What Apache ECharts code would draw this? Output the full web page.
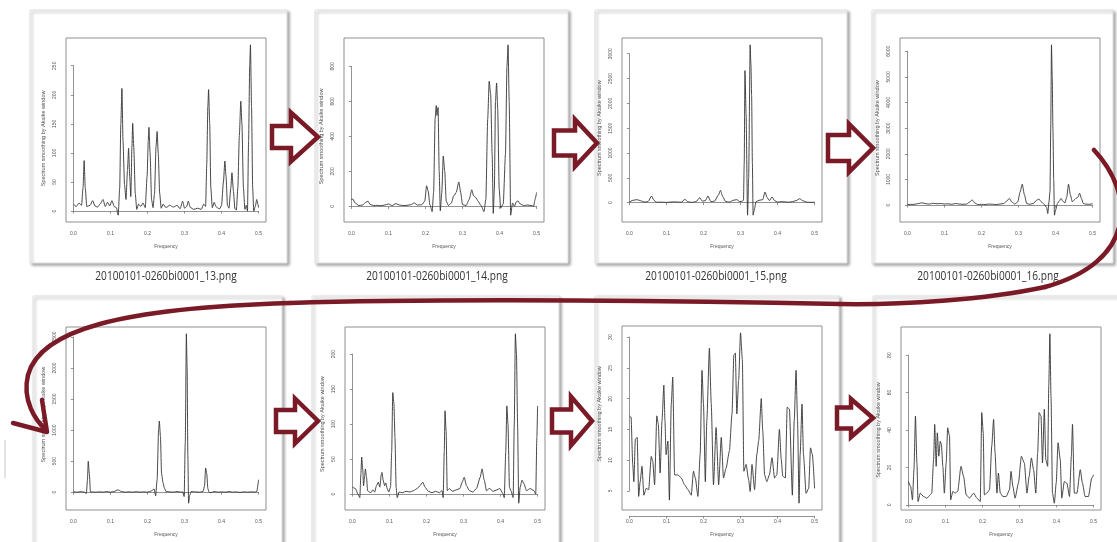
<!DOCTYPE html>
<html><head><meta charset="utf-8">
<script src="https://cdn.jsdelivr.net/npm/echarts@6/dist/echarts.min.js"></script>
<style>html,body{margin:0;padding:0;background:#fff}#c{width:1117px;height:542px}</style>
</head><body><div id="c"></div>
<script>
// ---------- data ----------
const captions = ['20100101-0260bi0001_13.png','20100101-0260bi0001_14.png','20100101-0260bi0001_15.png','20100101-0260bi0001_16.png'];
const freqTicks = [0, 0.1, 0.2, 0.3, 0.4, 0.5];
const xName = 'Frequency';
const yName = 'Spectrum smoothing by Akaike window';

const ticks13 = [0,50,100,150,200,250];
const ticks14 = [0,200,400,600,800];
const ticks15 = [0,500,1000,1500,2000,2500,3000];
const ticks16 = [0,1000,2000,3000,4000,5000,6000];
const ticks17 = [0,500,1000,1500,2000,2500];
const ticks18 = [0,50,100,150,200];
const ticks19 = [5,10,15,20,25,30];
const ticks20 = [0,20,40,60,80];

const spec13 = [[0,12],[0.008,8],[0.015,14],[0.022,10],[0.026,40],[0.029,87],[0.032,40],[0.036,8],[0.045,10],[0.052,18],[0.058,9],[0.065,7],[0.072,12],[0.08,20],[0.086,8],[0.092,15],[0.098,9],[0.104,18],[0.11,8],[0.116,6],[0.121,-7],[0.125,40],[0.128,150],[0.131,211],[0.134,120],[0.138,45],[0.142,20],[0.146,70],[0.149,108],[0.152,60],[0.155,25],[0.158,110],[0.16,151],[0.163,110],[0.167,30],[0.171,3],[0.176,12],[0.182,8],[0.188,14],[0.194,6],[0.199,60],[0.202,120],[0.204,144],[0.207,100],[0.211,20],[0.215,6],[0.219,30],[0.223,110],[0.226,137],[0.229,100],[0.233,30],[0.237,5],[0.242,12],[0.25,6],[0.26,10],[0.27,7],[0.28,10],[0.288,4],[0.295,17],[0.3,5],[0.306,8],[0.31,17],[0.316,6],[0.325,3],[0.335,5],[0.345,3],[0.352,12],[0.357,8],[0.36,80],[0.363,180],[0.365,209],[0.368,150],[0.371,40],[0.375,6],[0.38,15],[0.385,8],[0.39,5],[0.395,4],[0.4,10],[0.405,50],[0.409,86],[0.412,60],[0.416,10],[0.42,5],[0.425,40],[0.428,66],[0.432,35],[0.436,4],[0.44,2],[0.444,40],[0.448,130],[0.452,189],[0.455,150],[0.459,40],[0.463,3],[0.467,10],[0.47,0],[0.473,120],[0.476,250],[0.478,286],[0.481,180],[0.484,40],[0.487,0],[0.491,8],[0.495,20],[0.498,12],[0.5,6]];

const spec14 = [[0,40],[0.004,42],[0.01,20],[0.02,5],[0.03,8],[0.04,25],[0.045,30],[0.05,12],[0.06,5],[0.07,6],[0.08,4],[0.09,8],[0.1,14],[0.11,5],[0.12,16],[0.13,8],[0.14,5],[0.15,6],[0.16,10],[0.17,20],[0.178,8],[0.19,10],[0.198,30],[0.203,118],[0.207,90],[0.212,10],[0.218,-30],[0.222,80],[0.226,500],[0.229,576],[0.231,520],[0.234,565],[0.237,200],[0.24,-25],[0.244,80],[0.248,288],[0.252,200],[0.256,30],[0.262,5],[0.27,20],[0.276,60],[0.283,80],[0.29,140],[0.295,80],[0.3,10],[0.31,5],[0.318,40],[0.325,95],[0.33,60],[0.336,51],[0.342,30],[0.35,5],[0.358,-30],[0.363,40],[0.368,500],[0.372,715],[0.376,640],[0.38,300],[0.383,-40],[0.386,100],[0.389,600],[0.392,705],[0.395,560],[0.399,100],[0.403,-10],[0.41,15],[0.416,300],[0.42,800],[0.423,923],[0.426,600],[0.43,-50],[0.435,20],[0.44,0],[0.445,25],[0.45,32],[0.455,15],[0.465,5],[0.475,8],[0.485,5],[0.492,2],[0.496,40],[0.5,80]];

const spec15 = [[0,13],[0.01,47],[0.02,60],[0.03,40],[0.04,10],[0.05,20],[0.06,133],[0.065,60],[0.072,8],[0.085,10],[0.1,5],[0.12,15],[0.14,8],[0.15,67],[0.158,15],[0.17,5],[0.18,20],[0.19,100],[0.197,30],[0.205,40],[0.212,133],[0.22,20],[0.23,30],[0.24,150],[0.246,247],[0.252,120],[0.26,20],[0.27,10],[0.28,47],[0.29,60],[0.298,20],[0.305,30],[0.308,47],[0.31,800],[0.312,2660],[0.315,1800],[0.319,-253],[0.322,500],[0.326,3180],[0.328,2800],[0.33,2147],[0.332,800],[0.334,-253],[0.337,-150],[0.342,20],[0.35,47],[0.36,60],[0.366,213],[0.372,100],[0.378,40],[0.385,113],[0.392,40],[0.4,10],[0.41,20],[0.42,15],[0.43,8],[0.44,20],[0.45,40],[0.46,80],[0.468,40],[0.478,10],[0.49,5],[0.5,8]];

const spec16 = [[0,20],[0.01,25],[0.02,30],[0.03,60],[0.04,90],[0.05,50],[0.06,40],[0.07,70],[0.08,50],[0.09,60],[0.1,40],[0.11,50],[0.12,30],[0.13,60],[0.14,40],[0.15,30],[0.16,40],[0.168,120],[0.175,200],[0.182,80],[0.19,20],[0.2,30],[0.21,20],[0.22,40],[0.23,30],[0.24,20],[0.25,40],[0.26,60],[0.268,150],[0.275,260],[0.282,120],[0.29,40],[0.298,120],[0.304,500],[0.31,815],[0.316,400],[0.322,60],[0.33,30],[0.34,60],[0.348,180],[0.355,237],[0.362,120],[0.37,20],[0.376,-100],[0.379,-330],[0.382,100],[0.385,525],[0.387,3000],[0.389,6250],[0.391,5000],[0.393,2900],[0.395,1000],[0.397,-395],[0.4,-200],[0.405,60],[0.41,160],[0.415,260],[0.42,150],[0.425,80],[0.43,300],[0.435,815],[0.44,400],[0.445,130],[0.45,200],[0.455,260],[0.46,300],[0.465,460],[0.47,250],[0.475,60],[0.48,40],[0.49,30],[0.5,50]];

const spec17 = [[0,5],[0.01,0],[0.02,8],[0.03,0],[0.035,-20],[0.038,200],[0.04,497],[0.043,300],[0.046,0],[0.05,5],[0.06,0],[0.07,5],[0.08,0],[0.09,10],[0.1,0],[0.11,10],[0.12,38],[0.13,10],[0.14,0],[0.15,5],[0.16,0],[0.17,8],[0.18,0],[0.19,5],[0.2,0],[0.21,20],[0.218,50],[0.222,-60],[0.226,200],[0.23,1000],[0.232,1146],[0.235,900],[0.238,300],[0.242,150],[0.246,60],[0.25,10],[0.26,5],[0.27,0],[0.28,10],[0.29,0],[0.295,5],[0.299,-70],[0.302,800],[0.305,2551],[0.307,2000],[0.309,600],[0.311,-178],[0.314,-50],[0.318,10],[0.33,5],[0.34,0],[0.35,10],[0.354,100],[0.357,389],[0.36,300],[0.363,60],[0.366,0],[0.37,-10],[0.38,10],[0.39,0],[0.4,5],[0.41,0],[0.42,10],[0.43,0],[0.44,5],[0.45,-5],[0.46,5],[0.47,0],[0.48,5],[0.49,0],[0.495,10],[0.5,200]];

const spec18 = [[0,10],[0.008,8],[0.015,0],[0.02,-5],[0.023,30],[0.025,53],[0.028,35],[0.03,12],[0.033,25],[0.035,36],[0.038,25],[0.041,5],[0.046,3],[0.05,2],[0.055,6],[0.06,3],[0.065,12],[0.07,17],[0.074,10],[0.078,28],[0.08,31],[0.083,20],[0.087,12],[0.09,16],[0.094,8],[0.098,3],[0.103,10],[0.106,60],[0.109,145],[0.112,130],[0.115,80],[0.118,10],[0.121,-5],[0.126,3],[0.135,2],[0.145,4],[0.155,3],[0.165,5],[0.175,8],[0.182,12],[0.19,17],[0.196,10],[0.205,4],[0.215,2],[0.225,4],[0.235,2],[0.242,5],[0.245,-5],[0.248,60],[0.25,119],[0.253,90],[0.256,5],[0.262,8],[0.27,4],[0.28,6],[0.29,8],[0.297,18],[0.302,24],[0.308,12],[0.316,5],[0.325,3],[0.335,8],[0.345,24],[0.35,36],[0.356,20],[0.362,5],[0.37,8],[0.38,4],[0.39,6],[0.398,8],[0.405,2],[0.41,-5],[0.414,60],[0.417,126],[0.42,100],[0.424,10],[0.428,5],[0.434,-5],[0.437,100],[0.44,229],[0.443,200],[0.446,100],[0.449,-13],[0.453,10],[0.458,20],[0.463,15],[0.47,5],[0.48,8],[0.49,5],[0.495,0],[0.498,80],[0.5,126]];

const spec19 = [[0,17.2],[0.0045,17.0],[0.009,9.3],[0.012,6.5],[0.016,13.4],[0.021,13.7],[0.025,4.1],[0.029,6.5],[0.034,9.0],[0.039,4.3],[0.045,5.4],[0.052,5.2],[0.059,10.6],[0.063,9.8],[0.068,6.0],[0.074,17.2],[0.078,15.9],[0.083,7.9],[0.088,16.4],[0.093,22.2],[0.096,16.4],[0.099,10.9],[0.104,13.1],[0.108,3.5],[0.113,19.1],[0.117,23.5],[0.122,7.6],[0.131,7.6],[0.14,7.1],[0.149,6.0],[0.158,5.2],[0.167,4.3],[0.173,8.2],[0.178,7.1],[0.185,4.1],[0.191,10.9],[0.196,24.6],[0.2,19.1],[0.205,6.5],[0.209,16.4],[0.216,28.2],[0.221,19.1],[0.227,6.0],[0.234,15.3],[0.241,6.0],[0.248,13.7],[0.254,7.1],[0.261,8.7],[0.27,11.5],[0.277,17.5],[0.282,27.1],[0.286,27.4],[0.29,17.5],[0.295,23.0],[0.3,30.7],[0.305,26.3],[0.309,8.2],[0.315,9.3],[0.322,6.8],[0.326,4.9],[0.331,9.3],[0.338,5.2],[0.344,10.9],[0.349,13.1],[0.356,20.0],[0.36,14.8],[0.365,7.6],[0.371,6.5],[0.378,7.6],[0.385,10.4],[0.392,7.1],[0.398,7.6],[0.405,15.0],[0.41,10.1],[0.414,7.4],[0.421,7.1],[0.426,18.6],[0.432,18.3],[0.44,4.3],[0.445,16.4],[0.45,24.6],[0.454,16.4],[0.458,3.0],[0.461,10.9],[0.466,19.1],[0.47,10.9],[0.477,4.6],[0.484,5.4],[0.489,12.0],[0.494,10.9],[0.5,5.4]];

const spec20 = [[0,12.5],[0.006,9.9],[0.011,2.7],[0.015,18.8],[0.019,47.5],[0.023,22.4],[0.026,1.8],[0.032,6.3],[0.041,4.5],[0.05,3.6],[0.059,5.4],[0.063,6.3],[0.068,24.2],[0.071,43.0],[0.075,20.6],[0.078,38.5],[0.082,26.0],[0.086,34.0],[0.089,32.3],[0.093,20.6],[0.097,6.3],[0.102,22.4],[0.106,41.2],[0.111,36.7],[0.114,2.7],[0.12,7.2],[0.126,6.3],[0.133,7.2],[0.142,20.6],[0.149,15.2],[0.156,5.4],[0.165,3.6],[0.176,6.3],[0.185,3.6],[0.194,1.8],[0.198,49.3],[0.202,38.5],[0.205,5.4],[0.212,6.3],[0.219,8.1],[0.225,31.4],[0.23,45.7],[0.234,27.8],[0.239,6.3],[0.243,17.0],[0.248,6.3],[0.255,4.5],[0.264,4.5],[0.273,8.1],[0.277,17.9],[0.282,9.9],[0.288,3.6],[0.297,11.6],[0.305,26.0],[0.313,22.4],[0.32,6.3],[0.326,15.2],[0.332,25.1],[0.338,18.8],[0.344,6.3],[0.349,27.8],[0.353,49.3],[0.358,47.5],[0.362,22.4],[0.367,51.1],[0.371,24.2],[0.376,20.6],[0.379,63.6],[0.382,91.4],[0.385,58.2],[0.389,6.3],[0.394,0.9],[0.399,11.6],[0.404,33.2],[0.41,24.2],[0.414,3.6],[0.421,12.5],[0.428,11.6],[0.435,4.5],[0.44,26.0],[0.443,43.0],[0.448,6.3],[0.455,6.3],[0.464,18.8],[0.47,11.6],[0.477,4.5],[0.486,4.5],[0.495,14.3],[0.5,16.1]];

// ---------- layout ----------
const panels = [
  {data: spec13, ticks: ticks13, box: [66, 38, 200, 184]},
  {data: spec14, ticks: ticks14, box: [344, 38, 200, 184]},
  {data: spec15, ticks: ticks15, box: [622, 38, 200, 184]},
  {data: spec16, ticks: ticks16, box: [900, 38, 200, 184]},
  {data: spec17, ticks: ticks17, box: [66, 327, 200, 183]},
  {data: spec18, ticks: ticks18, box: [345, 327, 200, 183]},
  {data: spec19, ticks: ticks19, box: [622, 326, 200, 184]},
  {data: spec20, ticks: ticks20, box: [901, 327, 200, 183]}
];
const topCards = [[30,10,257,253],[315,10,253,253],[595,10,252,253],[872,10,241,253]];
const botCards = [[33,296,249,260],[312,296,247,260],[595,296,244,260],[873,296,250,260]];
const capPos = [[166,276],[437,276],[716,276],[988,276]];
// arrows: x0, xHeadBase, xTip, yCenter, shaftH, headH
const arrows = [
  [272,291,318,137,22,49],
  [554,575,597,143,25,47],
  [828,849,873,148,26,48],
  [276,295,318,421,22,45],
  [552,571,592,421,23,49],
  [837,851,873,418,21,38]
];
const RED = '#7b1a27';
const GAP = 6;
const XR0 = -0.02, XR1 = 0.52;

const grids = [], xAxes = [], yAxes = [], series = [];
panels.forEach((p, i) => {
  const ys = p.data.map(d => d[1]);
  const lo = Math.min(...ys), hi = Math.max(...ys), pad = 0.04 * (hi - lo);
  const ymin = lo - pad, ymax = hi + pad;
  const [l, t, w, h] = p.box;
  grids.push({left: l, top: t, width: w, height: h, show: true, borderColor: '#8f8f8f', borderWidth: 1,
    backgroundColor: 'transparent', outerBoundsMode: 'none', containLabel: false});
  xAxes.push({gridIndex: 2*i, type: 'value', min: XR0, max: XR1, show: false});
  yAxes.push({gridIndex: 2*i, type: 'value', min: ymin, max: ymax, show: false});
  const f = p.ticks[0], L = p.ticks[p.ticks.length-1], step = p.ticks[1] - p.ticks[0];
  const fx0 = freqTicks[0], fx1 = freqTicks[freqTicks.length-1];
  const bl = l + (fx0 - XR0) / (XR1 - XR0) * w;
  const br = l + (fx1 - XR0) / (XR1 - XR0) * w;
  const bt = t + (ymax - L) / (ymax - ymin) * h;
  const bb = t + (ymax - f) / (ymax - ymin) * h;
  grids.push({left: bl, top: bt, width: br - bl, height: bb - bt, show: false, outerBoundsMode: 'none', containLabel: false});
  const axLine = {show: true, lineStyle: {color: '#777', width: 0.8}};
  const axTick = {show: true, length: 2.5, lineStyle: {color: '#777', width: 0.8}};
  xAxes.push({gridIndex: 2*i+1, type: 'value', min: fx0, max: fx1, interval: freqTicks[1]-freqTicks[0],
    position: 'bottom', offset: (t + h) - bb + GAP,
    axisLine: axLine, axisTick: axTick, splitLine: {show: false},
    axisLabel: {fontSize: 5, color: '#555', margin: 3, formatter: v => v.toFixed(1), fontFamily: 'Liberation Sans'},
    name: xName, nameLocation: 'middle', nameGap: 16,
    nameTextStyle: {fontSize: 5, color: '#555', fontFamily: 'Liberation Sans'}});
  yAxes.push({gridIndex: 2*i+1, type: 'value', min: f, max: L, interval: step,
    position: 'left', offset: bl - l + GAP,
    axisLine: axLine, axisTick: axTick, splitLine: {show: false},
    axisLabel: {fontSize: 5, color: '#555', margin: 3, rotate: 90, fontFamily: 'Liberation Sans', formatter: v => String(Math.round(v))},
    name: yName, nameLocation: 'middle', nameGap: 14,
    nameTextStyle: {fontSize: 5.5, color: '#555', fontFamily: 'Liberation Sans'}});
  series.push({type: 'line', xAxisIndex: 2*i, yAxisIndex: 2*i, data: p.data, showSymbol: false,
    smooth: 0.2, smoothMonotone: 'x',
    silent: true, lineStyle: {color: '#333', width: 0.9}, z: 3});
});

const graphics = [];
const cardStyle = {fill: '#fff', stroke: '#e2e2e2', lineWidth: 1,
  shadowBlur: 3, shadowColor: 'rgba(0,0,0,0.35)', shadowOffsetX: 2, shadowOffsetY: 2};
topCards.concat(botCards).forEach(c => {
  graphics.push({type: 'rect', z: -5, silent: true, shape: {x: c[0], y: c[1], width: c[2], height: c[3]}, style: cardStyle});
});
graphics.push({type: 'line', z: -5, silent: true, shape: {x1: 5, y1: 440, x2: 5, y2: 478}, style: {stroke: '#c8c8c8', lineWidth: 1}});
captions.forEach((c, i) => {
  graphics.push({type: 'text', z: 5, silent: true, x: capPos[i][0], y: capPos[i][1], scaleX: 0.78,
    style: {text: c, font: '13px "Open Sans"', fill: '#333', textAlign: 'center', textVerticalAlign: 'middle'}});
});
arrows.forEach(a => {
  const [x0, xb, x1, yc, sh, hh] = a;
  graphics.push({type: 'polygon', z: 20, silent: true,
    shape: {points: [[x0, yc - sh/2], [xb, yc - sh/2], [xb, yc - hh/2], [x1, yc], [xb, yc + hh/2], [xb, yc + sh/2], [x0, yc + sh/2]]},
    style: {fill: '#fff', stroke: RED, lineWidth: 4.5, lineJoin: 'miter'}});
});
const curve = [
  [1094,150, 1136,195, 1136,262, 1045,287],
  [1045,287, 985,300, 900,305, 840,304],
  [840,304, 700,301, 450,298, 290,303],
  [290,303, 120,308, 40,330, 28,375],
  [28,375, 22,400, 35,420, 46,430]
];
curve.forEach(s => {
  graphics.push({type: 'bezierCurve', z: 30, silent: true,
    shape: {x1: s[0], y1: s[1], cpx1: s[2], cpy1: s[3], cpx2: s[4], cpy2: s[5], x2: s[6], y2: s[7]},
    style: {stroke: RED, lineWidth: 4.5, fill: null, lineCap: 'round'}});
});
graphics.push({type: 'polyline', z: 30, silent: true, shape: {points: [[13,423],[47,432],[42,400]]},
  style: {stroke: RED, lineWidth: 4.5, fill: null, lineCap: 'round', lineJoin: 'round'}});

const chart = echarts.init(document.getElementById('c'), null, {renderer: 'canvas'});
chart.setOption({
  animation: false,
  backgroundColor: '#fff',
  grid: grids, xAxis: xAxes, yAxis: yAxes, series: series,
  graphic: {elements: graphics}
});
</script></body></html>
